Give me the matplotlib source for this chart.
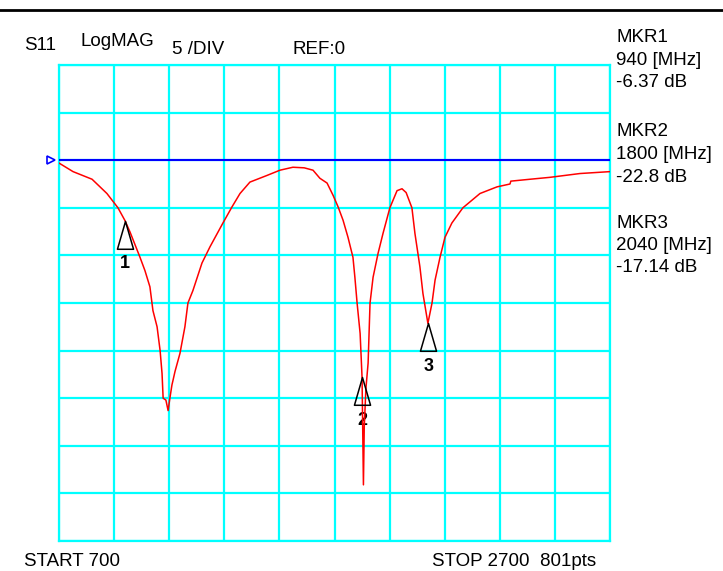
import numpy as np
import matplotlib.pyplot as plt
from matplotlib.path import Path

plt.rcParams['font.family'] = ['Liberation Sans', 'DejaVu Sans']

# S11 trace (MHz, dB)
freq = [700, 751, 820, 874, 914, 940, 958, 994, 1012, 1030, 1041, 1056, 1067,
        1074, 1078, 1088, 1096, 1103, 1110, 1114, 1121, 1139, 1157, 1168, 1186,
        1219, 1248, 1295, 1328, 1357, 1393, 1455, 1502, 1549, 1590, 1622, 1647,
        1673, 1695, 1713, 1731, 1749, 1767, 1774, 1782, 1793, 1800, 1805, 1808,
        1814, 1822, 1829, 1840, 1858, 1876, 1901, 1927, 1945, 1960, 1981, 1992,
        2010, 2021, 2039, 2054, 2065, 2083, 2101, 2126, 2166, 2228, 2290, 2337,
        2340, 2410, 2482, 2591, 2700]
s11 = [-0.3, -1.2, -2.0, -3.5, -5.0, -6.37, -7.56, -10.2, -11.6, -13.3, -15.8,
       -17.5, -20.0, -22.4, -25.0, -25.2, -26.3, -24.9, -23.6, -23.1, -22.2,
       -20.3, -17.5, -15.0, -13.7, -10.8, -9.1, -6.6, -4.9, -3.5, -2.3, -1.6,
       -1.05, -0.74, -0.8, -1.05, -1.9, -2.4, -3.7, -4.9, -6.3, -8.1, -10.2,
       -12.3, -15.0, -18.2, -22.8, -34.1, -28.0, -24.0, -21.3, -15.0, -12.3,
       -9.8, -7.7, -5.0, -3.2, -3.0, -3.4, -5.0, -7.7, -11.2, -14.0, -17.14,
       -15.0, -12.6, -10.2, -8.1, -6.6, -5.0, -3.5, -2.8, -2.5, -2.2, -2.0,
       -1.8, -1.4, -1.2]

mkr_num = ['1', '2', '3']
mkr_freq = [940, 1800, 2040]
mkr_db = [-6.37, -22.8, -17.14]

fig = plt.figure(figsize=(7.23, 5.71), dpi=100)
ax = fig.add_axes([59 / 723, 30 / 571, 551 / 723, 476 / 571])

ax.set_xlim(700, 2700)
ax.set_ylim(-40, 10)
ax.set_xticks(np.linspace(700, 2700, 11))
ax.set_yticks(np.linspace(-40, 10, 11))
ax.tick_params(length=0, labelbottom=False, labelleft=False)
ax.grid(True, color='#00ffff', lw=1.6)
for s in ax.spines.values():
    s.set_color('#00ffff')
    s.set_linewidth(1.6)

# reference level line + small pointer left of the grid
ax.axhline(0, color='#0000ff', lw=1.5, zorder=3)
ax.plot([700 - 0.014 * 2000], [0], marker='>', ms=6, mfc='white',
        mec='#0000ff', mew=1.2, clip_on=False, zorder=4, linestyle='none')

ax.plot(freq, s11, color='#ff0000', lw=1.1, zorder=4)

# markers: hollow triangle, tip on the trace
tri = Path([(0, 0), (-0.29, -1), (0.29, -1), (0, 0)],
           [Path.MOVETO, Path.LINETO, Path.LINETO, Path.CLOSEPOLY])
ax.plot(mkr_freq, mkr_db, marker=tri, ms=40, mfc='none', mec='black',
        mew=1.1, linestyle='none', zorder=5)
for n, f, d in zip(mkr_num, mkr_freq, mkr_db):
    ax.annotate(n, (f, d), xytext=(0, -31), textcoords='offset points',
                ha='center', va='center', fontsize=13, fontweight='bold')

# header / footer text
fig.add_artist(plt.Line2D([0, 1], [1 - 10 / 571] * 2, color='black', lw=2))
fs = 13.5
fig.text(24 / 723, 1 - 45 / 571, 'S11', fontsize=fs, va='center')
fig.text(80 / 723, 1 - 42 / 571, 'LogMAG', fontsize=fs, va='center')
fig.text(172 / 723, 1 - 50 / 571, '5 /DIV', fontsize=fs, va='center')
fig.text(292 / 723, 1 - 50 / 571, 'REF:0', fontsize=fs, va='center')

mkr_lines = [['MKR1', '940 [MHz]', '-6.37 dB'],
             ['MKR2', '1800 [MHz]', '-22.8 dB'],
             ['MKR3', '2040 [MHz]', '-17.14 dB']]
mkr_top = [38, 132, 223]
for lines, y0 in zip(mkr_lines, mkr_top):
    for i, t in enumerate(lines):
        fig.text(616 / 723, 1 - (y0 + 22.5 * i) / 571, t, fontsize=fs, va='center')

fig.text(24 / 723, 1 - 562 / 571, 'START 700', fontsize=fs, va='center')
fig.text(432 / 723, 1 - 562 / 571, 'STOP 2700  801pts', fontsize=fs, va='center')

fig.savefig('out.png', dpi=100)
